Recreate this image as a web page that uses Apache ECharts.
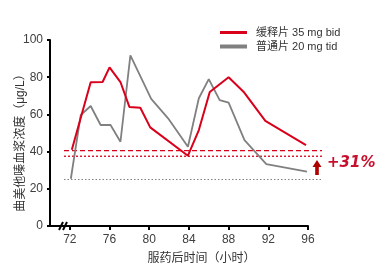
<!DOCTYPE html>
<html>
<head>
<meta charset="utf-8">
<script src="https://cdn.jsdelivr.net/npm/echarts@6/dist/echarts.min.js"></script>
<style>
  html, body { margin: 0; padding: 0; background: #fff; }
  #chart { width: 382px; height: 276px; }
</style>
</head>
<body>
<div id="chart"></div>
<script>
// 缓释片 35 mg bid
const hoursSR = [72.2, 74.1, 75.3, 76.0, 77.1, 78.0, 79.1, 80.1, 83.9, 85.0, 86.1, 88.0, 89.5, 91.7, 95.8]
const concSR = [41, 77.3, 77.4, 85.3, 77.4, 64, 63.6, 53, 37.8, 51.6, 72, 80, 72.2, 56.5, 43.5]
// 普通片 20 mg tid
const hoursIR = [72.1, 73.1, 74.1, 75.1, 76.1, 77.1, 78.1, 80.2, 81.9, 83.9, 85.0, 86.0, 87.1, 88.0, 89.6, 91.8, 95.9]
const concIR = [25.4, 59.7, 64.5, 54.3, 54.3, 45.3, 91.7, 68.3, 57.9, 42.6, 68.7, 79, 67.7, 66.3, 46.2, 33.3, 29.2]
const xTicks = [72, 76, 80, 84, 88, 92, 96]
// 谷浓度参考线: 缓释片 (虚线), 缓释片 (点线), 普通片 (点线)
const refLevels = [40.5, 37.5, 25]

const nameSR = '缓释片 35 mg bid'
const nameIR = '普通片 20 mg tid'
const red = '#d9001b'
const gray = '#808080'
const font = 'Liberation Sans, Arial, Noto Sans CJK SC, sans-serif'

const zip = (xs, ys) => xs.map((x, i) => [x, ys[i]])

const chart = echarts.init(document.getElementById('chart'), null, { renderer: 'canvas' })

const refLine = (level, color, type, width) => ({
  type: 'line',
  xAxisIndex: 1,
  yAxisIndex: 1,
  silent: true,
  symbol: 'none',
  z: 1,
  data: [[0, level], [1, level]],
  lineStyle: { color: color, type: type, width: width }
})

chart.setOption({
  animation: false,
  legend: [{
    data: [nameSR],
    left: 215,
    top: 22,
    icon: 'rect',
    itemWidth: 27,
    itemHeight: 3,
    textStyle: { fontSize: 11, color: '#333', fontFamily: font, padding: [0, 0, 0, 4] }
  }, {
    data: [nameIR],
    left: 215,
    top: 36,
    icon: 'rect',
    itemWidth: 27,
    itemHeight: 4,
    textStyle: { fontSize: 11, color: '#333', fontFamily: font, padding: [0, 0, 0, 4] }
  }],
  grid: [
    { left: 50, right: 74, top: 40, bottom: 50 },
    { left: 64, right: 60, top: 40, bottom: 50 }
  ],
  xAxis: [{
    type: 'value',
    gridIndex: 0,
    min: 70,
    max: 96,
    name: '服药后时间（小时）',
    nameLocation: 'middle',
    nameGap: 27,
    nameMoveOverlap: false,
    nameTextStyle: { fontSize: 12, color: '#333', fontFamily: font, padding: [0, 0, 0, 45] },
    splitLine: { show: false },
    axisLine: { lineStyle: { color: '#000', width: 2 } },
    axisTick: { customValues: xTicks, length: 4, lineStyle: { color: '#000', width: 2 } },
    axisLabel: { customValues: xTicks, fontSize: 12, color: '#404040', fontFamily: font, margin: 8 }
  }, {
    type: 'value',
    gridIndex: 1,
    min: 0,
    max: 1,
    show: false
  }],
  yAxis: [{
    type: 'value',
    gridIndex: 0,
    min: 0,
    max: 100,
    interval: 20,
    name: '曲美他嗪血浆浓度（μg/L）',
    nameLocation: 'middle',
    nameGap: 23,
    nameMoveOverlap: false,
    nameTextStyle: { fontSize: 12, color: '#333', fontFamily: font, padding: [0, 14, 0, 0] },
    splitLine: { show: false },
    axisLine: { show: true, lineStyle: { color: '#000', width: 2 } },
    axisTick: { show: true, length: 3, lineStyle: { color: '#000', width: 2 } },
    axisLabel: { fontSize: 12, color: '#404040', fontFamily: font, margin: 7 }
  }, {
    type: 'value',
    gridIndex: 1,
    min: 0,
    max: 100,
    show: false
  }],
  series: [
    refLine(refLevels[0], red, [5, 3], 1.3),
    refLine(refLevels[1], red, [2, 2], 1.3),
    refLine(refLevels[2], gray, [1.5, 2], 1),
    {
      name: nameIR,
      type: 'line',
      symbol: 'none',
      z: 2,
      data: zip(hoursIR, concIR),
      itemStyle: { color: gray },
      lineStyle: { color: gray, width: 1.8 }
    },
    {
      name: nameSR,
      type: 'line',
      symbol: 'none',
      z: 3,
      data: zip(hoursSR, concSR),
      itemStyle: { color: red },
      lineStyle: { color: red, width: 2 }
    }
  ],
  graphic: [
    // axis break marks
    { type: 'line', shape: { x1: 59, y1: 230, x2: 63, y2: 222 }, style: { stroke: '#000', lineWidth: 2 } },
    { type: 'line', shape: { x1: 63, y1: 230, x2: 67, y2: 222 }, style: { stroke: '#000', lineWidth: 2 } },
    // up arrow
    {
      type: 'polygon',
      shape: { points: [[317, 160], [321.5, 167], [318.8, 167], [318.8, 175], [315.2, 175], [315.2, 167], [312.5, 167]] },
      style: { fill: '#b00000' }
    },
    {
      type: 'text',
      left: 327,
      top: 156,
      style: { text: '+31%', fill: '#c8102e', font: 'italic bold 15px DejaVu Sans' }
    }
  ]
})
</script>
</body>
</html>
